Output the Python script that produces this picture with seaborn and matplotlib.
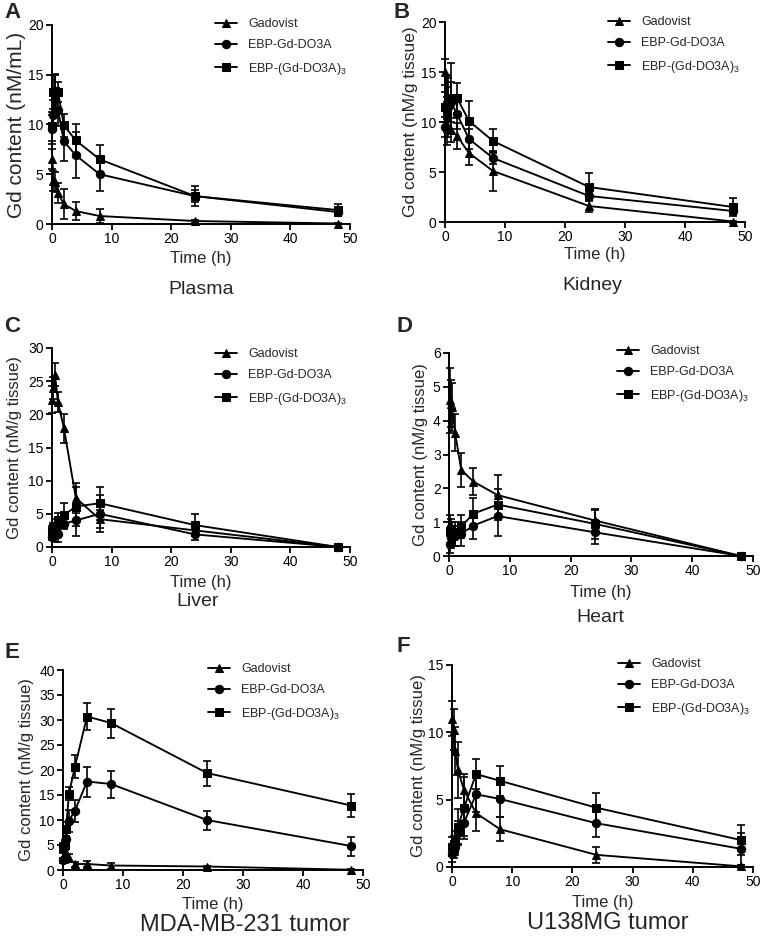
import numpy as np
import pandas as pd
import matplotlib
matplotlib.use("Agg")
import matplotlib.pyplot as plt
import seaborn as sns

# sampling times (h)
times = [0.083, 0.25, 0.5, 1, 2, 4, 8, 24, 48]
agents = ["Gadovist", "EBP-Gd-DO3A", "EBP-(Gd-DO3A)3"]
agent_labels = ["Gadovist", "EBP-Gd-DO3A", "EBP-(Gd-DO3A)$_3$"]

# means per panel, one list per agent (same order as agents)
plasma_mean = [[6.5, 4.3, 4.2, 3.1, 2.0, 1.3, 0.8, 0.3, 0.05],
               [9.5, 11.0, 13.0, 11.5, 8.3, 6.9, 5.0, 2.8, 1.2],
               [9.8, 13.3, 13.4, 13.3, 9.9, 8.4, 6.5, 2.8, 1.4]]
plasma_sd = [[1.0, 1.0, 1.0, 1.0, 1.5, 0.9, 0.7, 0.15, 0.1],
             [1.5, 1.5, 2.0, 1.7, 2.0, 2.3, 1.7, 0.6, 0.4],
             [1.5, 1.7, 1.7, 1.0, 1.2, 1.7, 1.4, 1.0, 0.6]]

kidney_mean = [[15.0, 11.0, 9.5, 9.2, 8.6, 6.9, 5.1, 1.6, 0.05],
               [9.5, 10.5, 11.5, 12.0, 10.8, 8.3, 6.4, 2.6, 1.1],
               [11.5, 11.2, 12.4, 12.4, 12.4, 10.1, 8.1, 3.5, 1.5]]
kidney_sd = [[1.3, 1.5, 1.0, 1.2, 1.3, 1.2, 2.0, 0.6, 0.1],
             [1.0, 1.5, 2.0, 2.0, 1.5, 1.0, 0.6, 0.3, 0.3],
             [1.5, 3.5, 2.0, 3.5, 1.5, 2.0, 1.2, 1.4, 0.9]]

liver_mean = [[22.2, 24.0, 26.0, 21.8, 17.9, 7.4, 4.2, 2.5, 0.0],
              [1.5, 1.8, 2.0, 2.0, 3.5, 4.0, 5.0, 1.9, 0.0],
              [2.4, 2.8, 3.2, 4.0, 4.8, 6.1, 6.6, 3.3, 0.0]]
liver_sd = [[2.0, 1.7, 1.7, 1.5, 2.2, 2.3, 1.4, 0.5, 0.0],
            [0.5, 0.8, 1.2, 1.3, 0.8, 2.3, 2.8, 0.9, 0.0],
            [0.7, 0.8, 1.0, 1.2, 1.8, 3.0, 2.5, 1.6, 0.0]]

heart_mean = [[4.6, 4.5, 4.4, 3.65, 2.55, 2.2, 1.8, 1.05, 0.0],
              [0.35, 0.55, 0.6, 0.6, 0.65, 0.9, 1.18, 0.7, 0.0],
              [0.75, 0.8, 0.7, 0.65, 0.87, 1.25, 1.52, 0.95, 0.0]]
heart_sd = [[0.95, 0.7, 0.7, 0.55, 0.5, 0.4, 0.6, 0.3, 0.0],
            [0.25, 0.3, 0.3, 0.3, 0.35, 0.4, 0.6, 0.35, 0.0],
            [0.45, 0.3, 0.3, 0.35, 0.35, 0.45, 0.45, 0.45, 0.0]]

mda_mean = [[4.5, 3.0, 2.5, 2.5, 1.2, 1.2, 0.9, 0.7, 0.05],
            [2.0, 2.5, 6.2, 9.9, 11.9, 17.7, 17.2, 10.0, 4.8],
            [4.5, 5.0, 8.2, 15.3, 20.7, 30.7, 29.4, 19.4, 12.9]]
mda_sd = [[1.0, 1.0, 0.8, 0.7, 0.5, 0.6, 0.6, 0.2, 0.1],
          [0.5, 1.0, 1.2, 2.2, 2.2, 3.0, 2.7, 1.9, 1.9],
          [0.8, 1.0, 1.4, 1.3, 2.3, 2.7, 2.9, 2.5, 2.3]]

u138_mean = [[11.0, 10.2, 8.6, 7.2, 5.7, 4.0, 2.8, 0.9, 0.05],
             [1.0, 1.2, 1.5, 2.5, 3.3, 5.4, 5.05, 3.25, 1.35],
             [1.5, 1.7, 2.0, 3.0, 4.4, 6.9, 6.4, 4.4, 2.0]]
u138_sd = [[1.3, 1.5, 1.8, 2.1, 1.2, 1.3, 0.9, 0.6, 0.1],
           [0.6, 0.5, 0.6, 0.9, 1.0, 1.3, 1.3, 1.0, 1.2],
           [0.7, 0.6, 0.7, 1.3, 2.3, 1.1, 1.1, 1.1, 1.1]]

panels = [
    # letter, tissue, ylabel, ymax, ystep, mean, sd
    ("A", "Plasma", "Gd content (nM/mL)", 20, 5, plasma_mean, plasma_sd),
    ("B", "Kidney", "Gd content (nM/g tissue)", 20, 5, kidney_mean, kidney_sd),
    ("C", "Liver", "Gd content (nM/g tissue)", 30, 5, liver_mean, liver_sd),
    ("D", "Heart", "Gd content (nM/g tissue)", 6, 1, heart_mean, heart_sd),
    ("E", "MDA-MB-231 tumor", "Gd content (nM/g tissue)", 40, 5, mda_mean, mda_sd),
    ("F", "U138MG tumor", "Gd content (nM/g tissue)", 15, 5, u138_mean, u138_sd),
]

# pixel layout: axes box (x0, x1, ytop, ybottom), letter pos, ylabel x, xlabel y,
# subtitle pos, legend top-left, font sizes of ylabel / subtitle
layout = {
    "A": dict(box=(52, 350, 25, 224), letter=(4, 13), ylab=17, xlab=258, sub=(201, 290), leg=(215, 18), ys=15, ss=14),
    "B": dict(box=(445, 745, 22, 222), letter=(394, 12), ylab=410, xlab=255, sub=(592, 286), leg=(608, 16), ys=12.5, ss=14),
    "C": dict(box=(52, 350, 348, 547), letter=(4, 326), ylab=15, xlab=582, sub=(198, 602), leg=(215, 348), ys=12, ss=14),
    "D": dict(box=(449, 753, 353, 556), letter=(396, 327), ylab=420, xlab=592, sub=(600, 617), leg=(617, 345), ys=12, ss=14),
    "E": dict(box=(63, 363, 670, 870), letter=(4, 652), ylab=27, xlab=905, sub=(245, 925), leg=(208, 663), ys=12, ss=17),
    "F": dict(box=(452, 753, 665, 867), letter=(396, 647), ylab=418, xlab=902, sub=(608, 923), leg=(618, 658), ys=12, ss=17),
}

W, H = 764, 944

sns.set_theme(style="ticks")
plt.rcParams["font.family"] = ["Liberation Sans", "DejaVu Sans"]
plt.rcParams["mathtext.fontset"] = "custom"
plt.rcParams["mathtext.rm"] = "Liberation Sans"
plt.rcParams["mathtext.it"] = "Liberation Sans:italic"
plt.rcParams["mathtext.bf"] = "Liberation Sans:bold"

fig = plt.figure(figsize=(W / 100, H / 100), dpi=100)
fig.patch.set_facecolor("white")

markers = {"Gadovist": "^", "EBP-Gd-DO3A": "o", "EBP-(Gd-DO3A)3": "s"}


def fx(x):
    return x / W


def fy(y):
    return 1 - y / H


for letter, tissue, ylabel, ymax, ystep, mean, sd in panels:
    lay = layout[letter]
    x0, x1, yt, yb = lay["box"]
    ax = fig.add_axes([fx(x0), fy(yb), (x1 - x0) / W, (yb - yt) / H])

    rows = []
    for a, m, s in zip(agents, mean, sd):
        for t, v, e in zip(times, m, s):
            rows.append({"time": t, "value": v, "sd": e, "agent": a})
    df = pd.DataFrame(rows)

    sns.lineplot(data=df, x="time", y="value", style="agent", style_order=agents,
                 markers=markers, dashes=False, color="black", markersize=6,
                 markeredgecolor="black", linewidth=1.35, errorbar=None,
                 legend=False, ax=ax, clip_on=False, zorder=3)
    handles = list(ax.get_lines())[:3]

    for a in agents:
        sub = df[df["agent"] == a]
        ax.errorbar(sub["time"], sub["value"], yerr=sub["sd"], fmt="none",
                    ecolor="black", elinewidth=1.2, capsize=3, capthick=1.2,
                    clip_on=False, zorder=2)

    ax.set_xlim(0, 50)
    ax.set_ylim(0, ymax)
    ax.set_xticks(np.arange(0, 51, 10))
    ax.set_yticks(np.arange(0, ymax + 0.01, ystep))
    ax.set_xlabel("")
    ax.set_ylabel("")
    sns.despine(ax=ax)
    for sp in ("left", "bottom"):
        ax.spines[sp].set_linewidth(1.4)
        ax.spines[sp].set_color("black")
    ax.tick_params(axis="both", direction="out", length=4, width=1.3,
                   colors="black", labelsize=10, pad=2)
    ax.set_facecolor("none")

    ax.legend(handles, agent_labels, loc="upper left",
              bbox_to_anchor=(fx(lay["leg"][0]), fy(lay["leg"][1])),
              bbox_transform=fig.transFigure, frameon=False,
              fontsize=9, handlelength=1.75, handletextpad=0.9,
              labelspacing=0.75, borderpad=0, borderaxespad=0,
              numpoints=1)

    cy = (yt + yb) / 2
    fig.text(fx(lay["ylab"]), fy(cy), ylabel, rotation=90, ha="center",
             va="center", fontsize=lay["ys"])
    fig.text(fx((x0 + x1) / 2), fy(lay["xlab"]), "Time (h)", ha="center",
             va="center", fontsize=12)
    fig.text(fx(lay["sub"][0]), fy(lay["sub"][1]), tissue, ha="center",
             va="center", fontsize=lay["ss"])
    fig.text(fx(lay["letter"][0]), fy(lay["letter"][1]), letter, ha="left",
             va="center", fontsize=16, fontweight="bold")

fig.savefig("out.png", dpi=100, facecolor="white")
